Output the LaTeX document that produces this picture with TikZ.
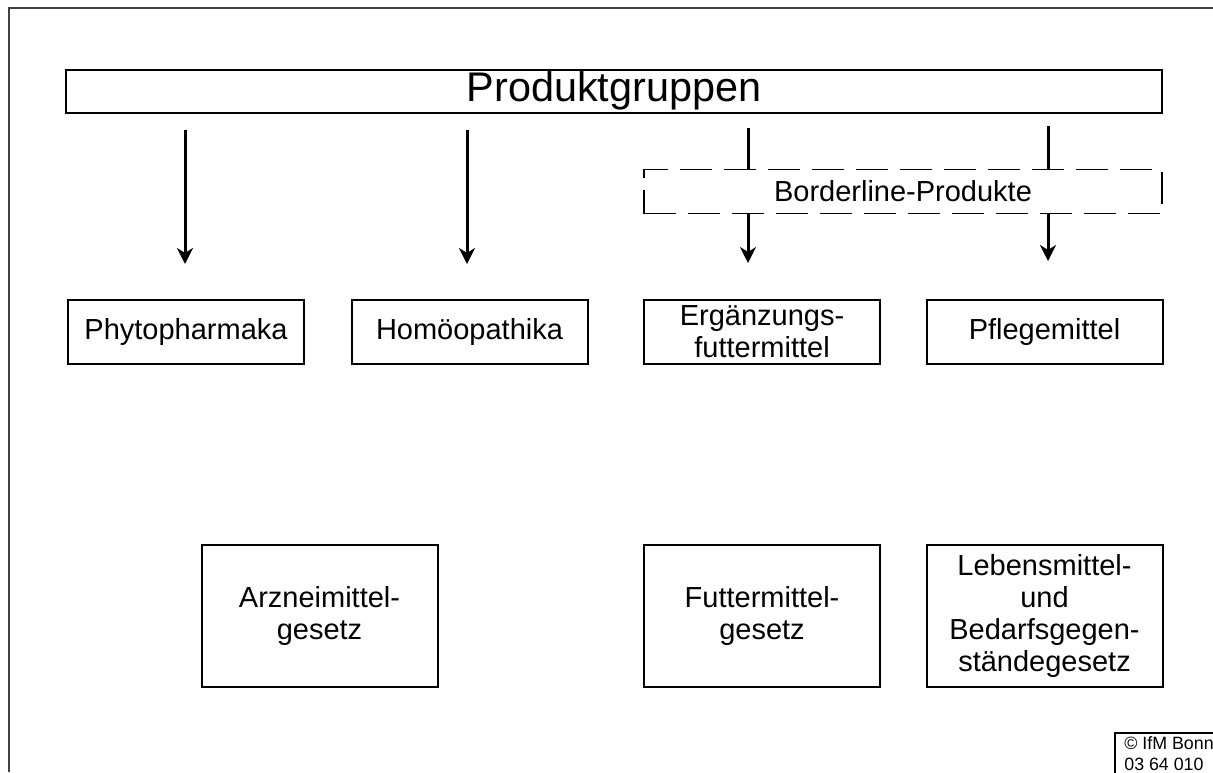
\documentclass[tikz,border=0pt]{standalone}
\usepackage{fontspec}
\setmainfont{Liberation Sans}
\usetikzlibrary{arrows.meta}

\begin{document}
\begin{tikzpicture}[x=0.5pt,y=-0.5pt,
    base node/.style={draw,line width=1pt,inner sep=0pt,align=center,font=\fontsize{14.5}{16}\selectfont},
    group node/.style={base node,minimum width=118pt,minimum height=32pt},
    law node/.style={base node,minimum width=118pt,minimum height=71pt},
    arr/.style={-{Stealth[length=8pt,width=8pt,inset=2.5pt]},line width=1.5pt},
    stub/.style={line width=1.5pt}]

\useasboundingbox (0,0) rectangle (1213,772);
\draw[line width=1pt,black!75] (9,772) -- (9,8) -- (1213,8);

\node[base node,minimum width=548pt,minimum height=21.5pt,font=\fontsize{20.7}{24}\selectfont] (prod) at (614,91) {Produktgruppen};
\node[base node,line width=0.6pt,dash pattern=on 16pt off 6pt,minimum width=259pt,minimum height=22pt] (border) at (903,191.5) {Borderline-Produkte};

\node[group node] (phyto)   at (186,332)    {Phytopharmaka};
\node[group node] (homoeo)  at (469.5,332)  {Homöopathika};
\node[group node] (ergaenz) at (762,332)    {Ergänzungs-\\futtermittel};
\node[group node] (pflege)  at (1044.5,332) {Pflegemittel};

\node[law node] (arznei) at (319.5,615.5)  {Arzneimittel-\\gesetz};
\node[law node] (futter) at (762,615.5)    {Futtermittel-\\gesetz};
\node[law node] (lebens) at (1044.5,615.5) {Lebensmittel-\\und\\Bedarfsgegen-\\ständegesetz};

\node[draw,line width=1pt,anchor=north west,align=left,inner xsep=1.5pt,inner ysep=2pt,minimum width=54pt,font=\fontsize{8.9}{10.5}\selectfont] (ifm) at (1114,732) {© IfM Bonn\\03 64 010};

\coordinate (c1) at (185,0);
\coordinate (c2) at (467,0);
\coordinate (c3) at (748,0);
\coordinate (c4) at (1048,0);

\path
(prod.south -| c1) edge[arr,shorten <=8pt,shorten >=17.5pt] (phyto.north -| c1)
(prod.south -| c2) edge[arr,shorten <=8pt,shorten >=17.5pt] (homoeo.north -| c2)
(prod.south -| c3) edge[stub,shorten <=7pt] (border.north -| c3)
(prod.south -| c4) edge[stub,shorten <=6pt] (border.north -| c4)
(border.south -| c3) edge[arr,shorten >=18pt] (ergaenz.north -| c3)
(border.south -| c4) edge[arr,shorten >=19pt] (pflege.north -| c4);
\end{tikzpicture}
\end{document}
